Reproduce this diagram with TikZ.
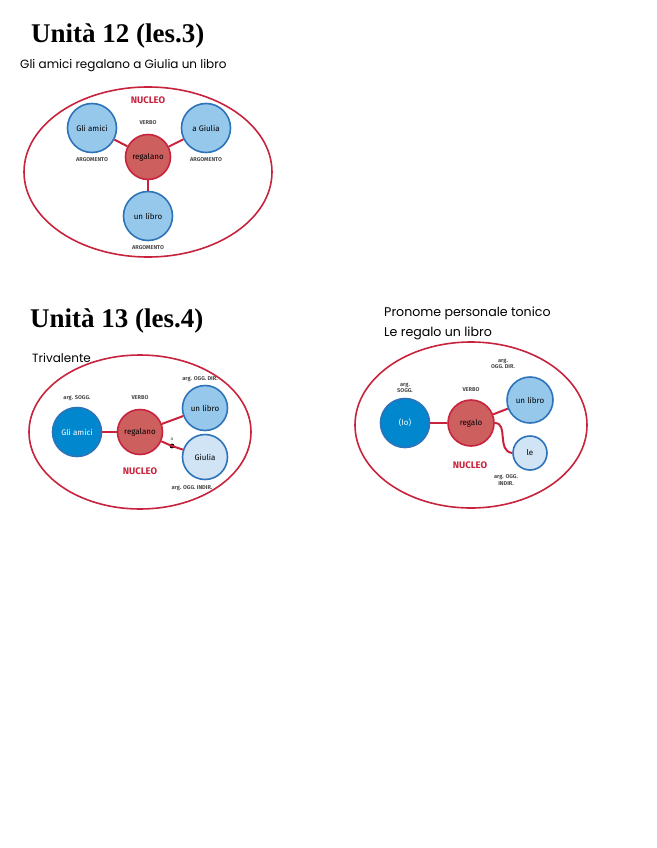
\documentclass[tikz,border=0pt]{standalone}
\usepackage{fontspec}
\setmainfont{Liberation Serif}
\setsansfont{Fira Sans}
\newfontfamily\handfont{Poppins}
\usetikzlibrary{calc}
\definecolor{nucred}{RGB}{200,35,60}
\definecolor{verbred}{RGB}{205,95,95}
\definecolor{argblue}{RGB}{45,115,185}
\definecolor{argfill}{RGB}{150,200,235}
\definecolor{soggblue}{RGB}{0,135,205}
\definecolor{indfill}{RGB}{208,228,245}

\begin{document}
\begin{tikzpicture}[x=1pt,y=-1pt,
    nucleo/.style={draw=nucred,line width=1.6pt},
    link/.style={draw=nucred,line width=2pt},
    arg/.style={circle,draw=argblue,line width=1.6pt,fill=argfill,inner sep=0pt,minimum size=49pt,font=\sffamily\fontsize{8}{9}\selectfont},
    sogg/.style={arg,fill=soggblue,text=white},
    indir/.style={arg,fill=indfill},
    verb/.style={circle,draw=nucred,line width=1.6pt,fill=verbred,inner sep=0pt,minimum size=45pt,font=\sffamily\fontsize{8}{9}\selectfont},
    tag/.style={font=\sffamily\bfseries\fontsize{5.6}{6.2}\selectfont,text=black!70,align=center,inner sep=0pt},
    nuctag/.style={font=\sffamily\bfseries\fontsize{9.5}{10}\selectfont,text=nucred,inner sep=0pt},
    titolo/.style={font=\bfseries\fontsize{27}{30}\selectfont,anchor=west,inner sep=0pt},
    frase/.style={font=\handfont\fontsize{12}{20}\selectfont,anchor=west,inner sep=0pt,align=left}]
  \useasboundingbox (0,0) rectangle (656,848);

  \node[titolo] (tit12) at (31,36) {Unità 12 (les.3)};
  \node[frase] (fr12) at (20,66) {Gli amici regalano a Giulia un libro};
  \draw[nucleo] (148,172) ellipse [x radius=124,y radius=85];
  \node[nuctag] (nuc12) at (148,100) {NUCLEO};
  \node[verb] (regalano) at (148,157) {regalano};
  \node[arg] (amici) at (92,128) {Gli amici};
  \node[arg] (agiulia) at (206,128) {a Giulia};
  \node[arg] (libro) at (148,216) {un libro};
  \draw[link] (amici) -- (regalano);
  \draw[link] (agiulia) -- (regalano);
  \draw[link] (libro) -- (regalano);
  \node[tag] (verbo12) at (148,123) {VERBO};
  \node[tag] (argA) at (92,160) {ARGOMENTO};
  \node[tag] (argB) at (206,160) {ARGOMENTO};
  \node[tag] (argC) at (148,248) {ARGOMENTO};

  \node[titolo] (tit13) at (30,321) {Unità 13 (les.4)};
  \node[frase] (triv) at (32,358) {Trivalente};
  \draw[nucleo] (140,432) ellipse [x radius=111,y radius=77];
  \node[verb] (regalanoB) at (140,432) {regalano};
  \node[sogg] (amiciB) at (77,432) {Gli amici};
  \node[arg,minimum size=45pt] (libroB) at (205,408) {un libro};
  \node[indir,minimum size=45pt] (giulia) at (205,457) {Giulia};
  \fill (172,446) circle (2.4) coordinate (prep);
  \node[tag,font=\sffamily\fontsize{5}{5}\selectfont] (prepA) at (172,439) {a};
  \draw[link] (amiciB) -- (regalanoB);
  \draw[link] (regalanoB) -- (libroB);
  \draw[link] (regalanoB) -- (prep) -- (giulia);
  \node[tag] (soggB) at (77,398) {arg. SOGG.};
  \node[tag] (verboB) at (140,398) {VERBO};
  \node[tag] (dirB) at (200,379) {arg. OGG. DIR.};
  \node[tag] (indirB) at (192,488) {arg. OGG. INDIR.};
  \node[nuctag] (nucB) at (140,471) {NUCLEO};

  \node[frase,anchor=north west,font=\handfont\fontsize{12.6}{20}\selectfont] (tonico) at (384,307) {Pronome personale tonico\\Le regalo un libro};
  \draw[nucleo] (471,425) ellipse [x radius=116,y radius=83];
  \node[verb,minimum size=46pt] (regalo) at (471,423) {regalo};
  \node[sogg] (io) at (405,423) {(Io)};
  \node[arg,minimum size=46pt] (libroC) at (530,400) {un libro};
  \node[indir,minimum size=34pt] (le) at (530,453) {le};
  \draw[link] (io) -- (regalo);
  \draw[link] (regalo) -- (libroC);
  \draw[link] (regalo.east) .. controls +(14,0) and +(-16,-2) .. (le.west);
  \node[tag] (soggC) at (405,388) {arg.\\SOGG.};
  \node[tag] (verboC) at (471,390) {VERBO};
  \node[tag] (dirC) at (503,364) {arg.\\OGG. DIR.};
  \node[tag] (indirC) at (506,480) {arg. OGG.\\INDIR.};
  \node[nuctag] (nucC) at (470,465) {NUCLEO};
\end{tikzpicture}
\end{document}
